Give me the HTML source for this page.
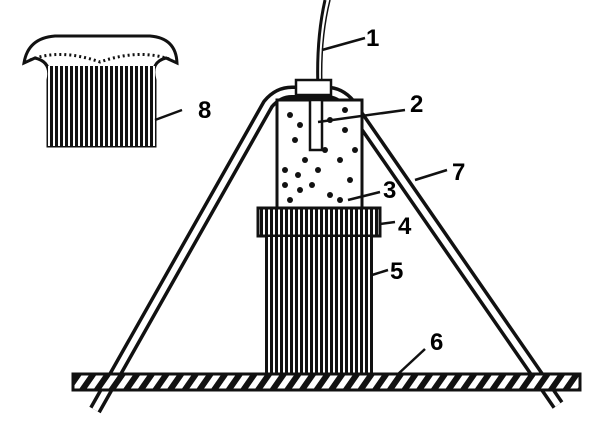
<!DOCTYPE html>
<html><head><style>body{margin:0;background:#fff}svg{display:block}text{font-family:"Liberation Sans",sans-serif;font-weight:bold;font-size:24px}</style></head>
<body>
<svg width="606" height="430" viewBox="0 0 606 430" xmlns="http://www.w3.org/2000/svg">
<defs>
<pattern id="v" width="5" height="10" patternUnits="userSpaceOnUse"><rect width="5" height="10" fill="#fff"/><rect width="3" height="10" fill="#111"/></pattern>
<pattern id="d" width="12" height="12" patternUnits="userSpaceOnUse" patternTransform="rotate(35)"><rect width="12" height="12" fill="#fff"/><rect width="6" height="12" fill="#111"/></pattern>
</defs>
<!-- item 8 -->
<path d="M24,63 Q28,38 55,36 L150,36 Q176,38 177,63 L166,58 Q150,62 155,80 L155,146 L48,146 L48,80 Q52,62 35,58 Z" fill="#fff" stroke="#111" stroke-width="3"/>
<rect x="48" y="66" width="107" height="80" fill="url(#v)"/>
<path d="M30,60 Q60,48 100,62 Q140,48 172,60" fill="none" stroke="#111" stroke-width="3" stroke-dasharray="2 3"/>
<path d="M155,120 L182,110" stroke="#111" stroke-width="2.5"/>
<text x="198" y="118">8</text>
<!-- frame -->
<path d="M95,410 L268,104 Q278,92 292,92 L326,92 Q340,92 350,104 L558,405" fill="none" stroke="#111" stroke-width="13" stroke-linejoin="round"/>
<path d="M95,410 L268,104 Q278,92 292,92 L326,92 Q340,92 350,104 L558,405" fill="none" stroke="#fff" stroke-width="6" stroke-linejoin="round"/>
<!-- wire and plug -->
<path d="M325,0 Q316,40 318,90" fill="none" stroke="#111" stroke-width="3"/>
<path d="M330,0 Q320,40 322,90" fill="none" stroke="#111" stroke-width="1.5"/>
<rect x="296" y="80" width="35" height="15" fill="#fff" stroke="#111" stroke-width="2.5"/>
<!-- cylinder 3 -->
<rect x="277" y="100" width="85" height="108" fill="#fff" stroke="#111" stroke-width="3"/>
<g fill="#111">
<circle cx="290" cy="115" r="3"/><circle cx="295" cy="140" r="3"/><circle cx="285" cy="170" r="3"/><circle cx="300" cy="190" r="3"/><circle cx="330" cy="120" r="3"/><circle cx="345" cy="130" r="3"/><circle cx="340" cy="160" r="3"/><circle cx="350" cy="180" r="3"/><circle cx="318" cy="170" r="3"/><circle cx="305" cy="160" r="3"/><circle cx="330" cy="195" r="3"/><circle cx="290" cy="200" r="3"/><circle cx="355" cy="150" r="3"/><circle cx="312" cy="185" r="3"/><circle cx="340" cy="200" r="3"/><circle cx="300" cy="125" r="3"/><circle cx="285" cy="185" r="3"/><circle cx="325" cy="150" r="3"/><circle cx="345" cy="110" r="3"/><circle cx="298" cy="175" r="3"/>
</g>
<rect x="310" y="100" width="12" height="50" fill="#fff" stroke="#111" stroke-width="2.5"/>
<!-- ring 4 -->
<rect x="258" y="208" width="122" height="28" fill="url(#v)" stroke="#111" stroke-width="3"/>
<!-- body 5 -->
<rect x="266" y="236" width="106" height="139" fill="url(#v)" stroke="#111" stroke-width="2"/>
<!-- base 6 -->
<rect x="73" y="374" width="507" height="16" fill="url(#d)" stroke="#111" stroke-width="3"/>
<!-- leaders -->
<path d="M322,50 L365,38" stroke="#111" stroke-width="2.5"/>
<path d="M318,122 L405,110" stroke="#111" stroke-width="2.5"/>
<path d="M348,200 L380,192" stroke="#111" stroke-width="2.5"/>
<path d="M380,224 L395,222" stroke="#111" stroke-width="2.5"/>
<path d="M372,275 L388,270" stroke="#111" stroke-width="2.5"/>
<path d="M397,375 L425,349" stroke="#111" stroke-width="2.5"/>
<path d="M415,180 L447,170" stroke="#111" stroke-width="2.5"/>
<text x="366" y="46">1</text>
<text x="410" y="112">2</text>
<text x="383" y="198">3</text>
<text x="398" y="234">4</text>
<text x="390" y="279">5</text>
<text x="430" y="350">6</text>
<text x="452" y="180">7</text>
</svg>
</body></html>
